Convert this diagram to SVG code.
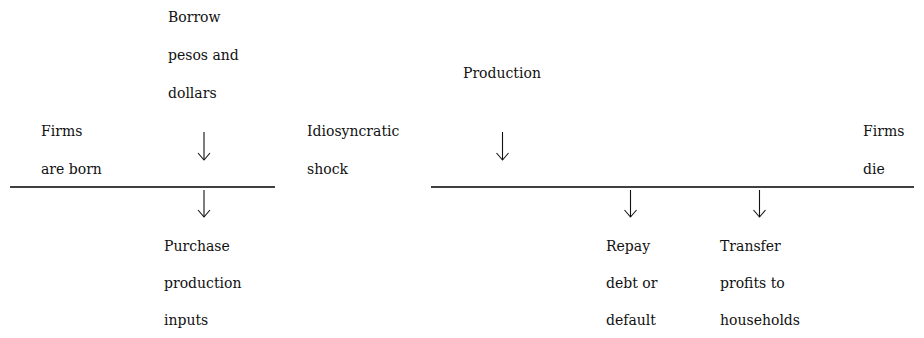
<svg xmlns="http://www.w3.org/2000/svg" width="924" height="338" viewBox="0 0 924 338">
  <style>
    text { font-family: "DejaVu Serif", "Liberation Serif", serif; font-size: 14px; fill: #111; }
    .rule { stroke: #000; stroke-width: 1.3; fill: none; }
    .arr { stroke: #111; stroke-width: 1.1; fill: none; }
  </style>
  <rect width="924" height="338" fill="#fff"/>

  <g id="connectors">
    <line class="rule" x1="10" y1="187" x2="275" y2="187"/>
    <line class="rule" x1="431" y1="187" x2="914" y2="187"/>
    <line class="arr" x1="204" y1="132" x2="204" y2="160"/>
    <path class="arr" d="M198,153 L204,160 L210,153"/>
    <line class="arr" x1="204" y1="190" x2="204" y2="217"/>
    <path class="arr" d="M198,210 L204,217 L210,210"/>
    <line class="arr" x1="502.5" y1="132" x2="502.5" y2="160"/>
    <path class="arr" d="M496.5,153 L502.5,160 L508.5,153"/>
    <line class="arr" x1="630.5" y1="190" x2="630.5" y2="217"/>
    <path class="arr" d="M624.5,210 L630.5,217 L636.5,210"/>
    <line class="arr" x1="759.5" y1="190" x2="759.5" y2="217"/>
    <path class="arr" d="M753.5,210 L759.5,217 L765.5,210"/>
  </g>

  <g id="firms-born">
    <text x="41" y="136">Firms</text>
    <text x="41" y="174">are born</text>
  </g>
  <g id="borrow">
    <text x="168" y="22">Borrow</text>
    <text x="168" y="60">pesos and</text>
    <text x="168" y="98">dollars</text>
  </g>
  <g id="purchase">
    <text x="164" y="251">Purchase</text>
    <text x="164" y="288">production</text>
    <text x="164" y="325">inputs</text>
  </g>
  <g id="shock">
    <text x="307" y="136">Idiosyncratic</text>
    <text x="307" y="174">shock</text>
  </g>
  <g id="production">
    <text x="463" y="78">Production</text>
  </g>
  <g id="repay">
    <text x="606" y="251">Repay</text>
    <text x="606" y="288">debt or</text>
    <text x="606" y="325">default</text>
  </g>
  <g id="transfer">
    <text x="720" y="251">Transfer</text>
    <text x="720" y="288">profits to</text>
    <text x="720" y="325">households</text>
  </g>
  <g id="firms-die">
    <text x="863" y="136">Firms</text>
    <text x="863" y="174">die</text>
  </g>
</svg>
